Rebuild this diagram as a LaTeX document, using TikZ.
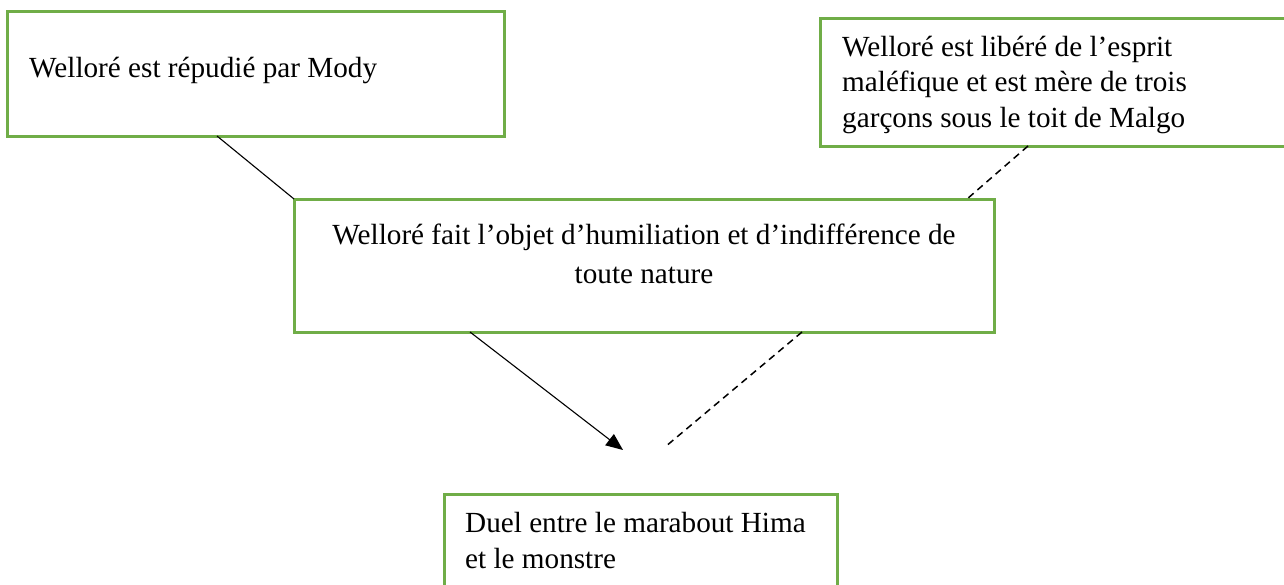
\documentclass[tikz,border=0pt]{standalone}
\usepackage{fontspec}
\setmainfont{Liberation Serif}
\usetikzlibrary{arrows.meta}
\definecolor{boxgreen}{RGB}{112,173,71}
\begin{document}
\begin{tikzpicture}[x=1pt,y=-1pt,
  box/.style={draw=boxgreen,line width=3pt,inner sep=0pt,outer sep=0pt,anchor=north west},
  txt/.style={inner sep=0pt,anchor=base west,align=left,font=\fontsize{29.2}{35.5}\selectfont},
  conn/.style={line width=1.1pt},
  dashconn/.style={line width=1.5pt,dash pattern=on 7pt off 5pt}]
\useasboundingbox (0,0) rectangle (1284,584);
\node[box,minimum width=497pt,minimum height=125pt] (a) at (7,11) {};
\node[box,minimum width=470pt,minimum height=128pt] (b) at (820,18) {};
\node[box,minimum width=700pt,minimum height=133pt] (c) at (294,199) {};
\node[box,minimum width=393pt,minimum height=106pt] (d) at (444,494) {};
\node[txt] (ta) at (29,77) {Welloré est répudié par Mody};
\node[txt] (tb) at (842,127) {Welloré est libéré de l’esprit\\maléfique et est mère de trois\\garçons sous le toit de Malgo};
\node[txt,anchor=base,align=center,font=\fontsize{29.2}{39}\selectfont] (tc) at (644,283) {Welloré fait l’objet d’humiliation et d’indifférence de\\toute nature};
\node[txt] (td) at (465,568) {Duel entre le marabout Hima\\et le monstre};
\coordinate (dtip) at (623,450);
\coordinate (dend) at (665,447);
\draw[conn] ([xshift=210pt]a.south west) -- (c.north west);
\draw[dashconn] ([xshift=208pt]b.south west) -- ([xshift=673pt]c.north west);
\draw[conn,-{Triangle[length=17pt,width=14pt]}] ([xshift=176pt]c.south west) -- (dtip);
\draw[dashconn] ([xshift=508pt]c.south west) -- (dend);
\end{tikzpicture}
\end{document}
